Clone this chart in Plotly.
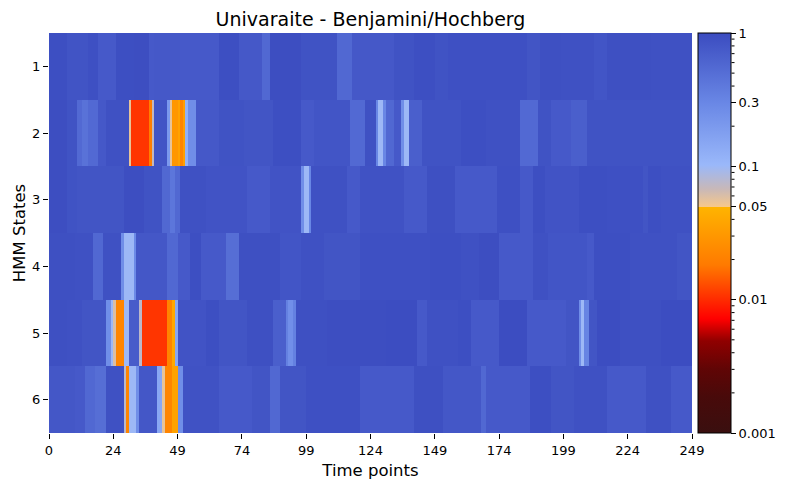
import numpy as np
import plotly.graph_objects as go

# Run-length encoded adjusted p-values per HMM state: (number of time points, p-value)
state_1 = [(7,0.94),(8,0.85),(4,0.92),(7,0.76),(7,0.94),(6,0.96),(2,0.76),(10,0.78),(15,0.76),(8,0.94),
           (9,0.78),(3,0.56),(12,0.96),(14,0.87),(6,0.56),(3,0.78),(13,0.78),(8,0.87),(8,0.94),(5,0.87),
           (31,0.92),(5,0.84),(8,0.93),(13,0.9),(5,0.83),(17,0.93),(16,0.9)]
state_2 = [(7,0.96),(4,0.87),(2,0.55),(2,0.46),(4,0.55),(3,0.78),(9,0.9),(1,0.055),(7,0.0108),(1,0.02),
           (1,0.07),(5,0.84),(1,0.2),(1,0.055),(2,0.03),(1,0.036),(1,0.022),(1,0.034),(1,0.12),(3,0.26),
           (9,0.78),(10,0.87),(11,0.84),(11,0.94),(5,0.76),(14,0.83),(6,0.55),(4,0.9),(1,0.3),(2,0.1),
           (1,0.3),(3,0.56),(3,0.76),(1,0.26),(2,0.1),(5,0.68),(15,0.87),(10,0.94),(13,0.9),(7,0.55),
           (5,0.87),(8,0.76),(6,0.68),(41,0.87)]
state_3 = [(7,0.96),(4,0.87),(18,0.84),(8,0.96),(7,0.87),(3,0.56),(2,0.42),(2,0.56),(10,0.9),(16,0.86),
           (9,0.76),(12,0.86),(1,0.26),(2,0.1),(1,0.3),(14,0.9),(5,0.76),(17,0.88),(9,0.76),(11,0.93),
           (16,0.76),(9,0.92),(5,0.76),(5,0.94),(13,0.86),(11,0.94),(14,0.92),(2,0.84),(5,0.94),(12,0.9)]
state_4 = [(10,0.93),(7,0.9),(4,0.56),(7,0.9),(1,0.26),(4,0.1),(1,0.28),(12,0.8),(4,0.56),(5,0.76),
           (4,0.94),(10,0.76),(5,0.5),(16,0.93),(8,0.83),(9,0.9),(14,0.84),(27,0.92),(12,0.94),(7,0.9),
           (8,0.96),(13,0.76),(6,0.9),(15,0.83),(3,0.76),(14,0.94),(18,0.9),(6,0.84)]
state_5 = [(7,0.93),(6,0.9),(9,0.84),(2,0.26),(1,0.1),(1,0.06),(3,0.022),(2,0.1),(4,0.72),(1,0.075),
           (10,0.0108),(2,0.022),(1,0.04),(1,0.15),(11,0.86),(5,0.94),(11,0.84),(10,0.93),(5,0.68),(1,0.34),
           (2,0.25),(1,0.34),(12,0.93),(23,0.96),(12,0.98),(4,0.76),(12,0.9),(5,0.94),(11,0.76),(11,0.97),
           (15,0.76),(5,0.84),(1,0.26),(1,0.1),(2,0.32),(3,0.84),(9,0.97),(16,0.93),(12,0.97)]
state_6 = [(10,0.8),(4,0.76),(4,0.56),(4,0.5),(7,0.9),(1,0.075),(1,0.022),(3,0.1),(1,0.26),(7,0.8),
           (2,0.15),(1,0.055),(3,0.022),(2,0.036),(2,0.26),(14,0.88),(13,0.76),(7,0.84),(4,0.56),(10,0.84),
           (21,0.92),(21,0.76),(11,0.93),(15,0.8),(2,0.56),(17,0.76),(8,0.94),(9,0.84),(13,0.9),(15,0.76),
           (10,0.9),(8,0.76)]

state_labels = ["1", "2", "3", "4", "5", "6"]
x_tick_labels = ["0", "24", "49", "74", "99", "124", "149", "174", "199", "224", "249"]
cbar_labels = ["0.001", "0.01", "0.05", "0.1", "0.3", "1"]
cbar_values = [0.001, 0.01, 0.05, 0.1, 0.3, 1.0]
n_time = 250

def expand(runs):
    out = []
    for n, v in runs:
        out.extend([v] * n)
    return out

rows = [expand(r) for r in [state_1, state_2, state_3, state_4, state_5, state_6]]
z = np.log10(np.array(rows))

colorscale = [
    [0.0, "#3a0f0f"], [0.09, "#480a0a"], [0.16, "#600505"], [0.23, "#900000"],
    [0.285, "#ff0000"], [0.35, "#ff3a00"], [0.42, "#ff7a00"], [0.565, "#ffb400"],
    [0.5651, "#f7c88a"], [0.61, "#c8b8b8"], [0.67, "#9ab8fa"], [0.8225, "#6a88e6"],
    [1.0, "#3b4cc0"],
]

L, R, T, B = 49, 692, 33, 433
W, H = 790, 490
pw = R - L

fig = go.Figure(go.Heatmap(
    z=z, x0=(n_time - 1) / n_time / 2, dx=(n_time - 1) / n_time,
    y=list(range(1, 7)),
    zmin=-3, zmax=0, colorscale=colorscale,
    colorbar=dict(
        x=(698 - L) / pw, xanchor="left", xpad=0, y=0.5, yanchor="middle", ypad=0,
        len=1, lenmode="fraction", thickness=33,
        outlinecolor="black", outlinewidth=1,
        tickvals=[np.log10(v) for v in cbar_values], ticktext=cbar_labels,
        ticks="outside", ticklen=5, tickcolor="black", tickwidth=1,
        tickfont=dict(family="DejaVu Sans", size=13, color="black"),
    ),
))

# minor ticks on colorbar
minor = [m * d for d in (0.001, 0.01, 0.1) for m in range(2, 10)]
for v in minor:
    if abs(v - 0.05) < 1e-9 or abs(v - 0.3) < 1e-9:
        continue
    yp = (np.log10(v) + 3) / 3
    fig.add_shape(type="line", xref="paper", yref="paper",
                  x0=(731.5 - L) / pw, x1=(734.5 - L) / pw, y0=yp, y1=yp,
                  line=dict(color="black", width=1))

tick_pos = list(np.linspace(0, n_time - 1, 11))
fig.update_layout(
    width=W, height=H,
    margin=dict(l=L, r=W - R, t=T, b=H - B, pad=0),
    paper_bgcolor="white", plot_bgcolor="white",
    font=dict(family="DejaVu Sans", color="black"),
    title=dict(text="Univaraite - Benjamini/Hochberg", x=(L + R) / 2 / W, xanchor="center",
               y=1 - 19 / H, yanchor="middle", font=dict(size=19, color="black")),
    xaxis=dict(range=[0, n_time - 1], tickvals=tick_pos, ticktext=x_tick_labels,
               ticks="outside", ticklen=5, tickcolor="black", showgrid=False, zeroline=False,
               showline=False, tickfont=dict(size=13),
               title=dict(text="Time points", font=dict(size=16.5), standoff=7)),
    yaxis=dict(range=[6.5, 0.5], tickvals=list(range(1, 7)), ticktext=state_labels,
               ticks="outside", ticklen=5, tickcolor="black", showgrid=False, zeroline=False,
               showline=False, tickfont=dict(size=13),
               title=dict(text="HMM States", font=dict(size=16.5), standoff=2)),
)

fig.write_html("out.html")
